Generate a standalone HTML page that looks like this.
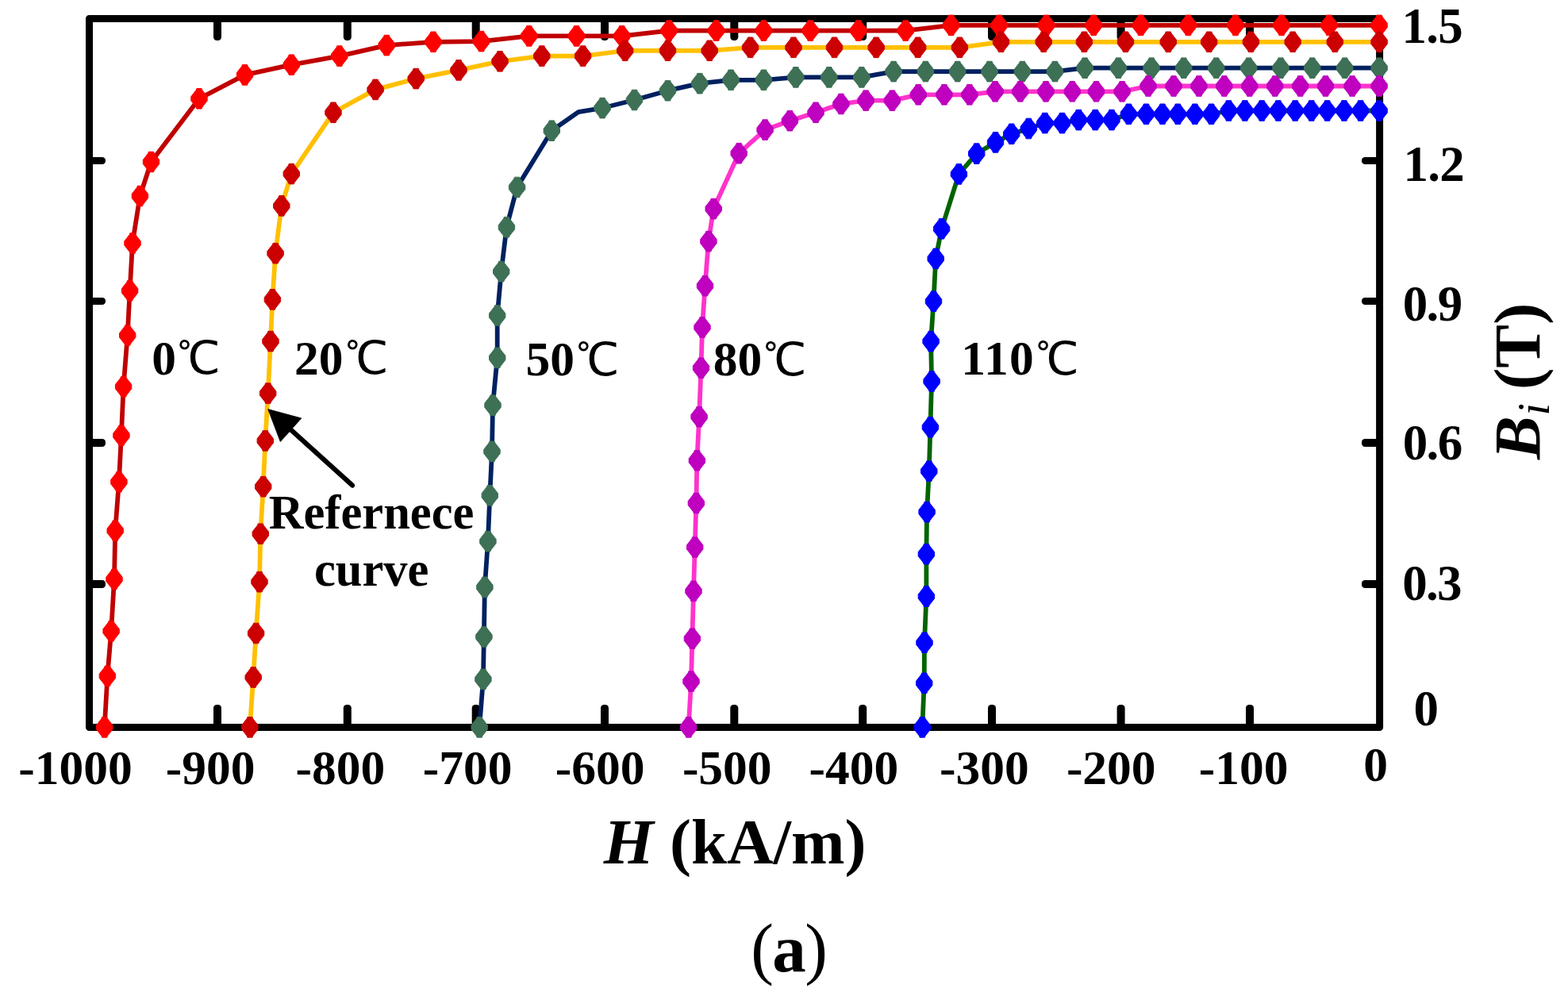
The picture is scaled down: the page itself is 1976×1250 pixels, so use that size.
<!DOCTYPE html>
<html lang="en">
<head>
<meta charset="utf-8">
<title>B-H demagnetization curves</title>
<style>
html,body{margin:0;padding:0;background:#fff;}
body{width:1976px;height:1250px;overflow:hidden;}
svg{display:block;}
</style>
</head>
<body>
<svg width="1976" height="1250" viewBox="0 0 1976 1250">
<rect width="1976" height="1250" fill="#fff"/>
<rect x="112.5" y="23.4" width="1626.1" height="893.1" fill="none" stroke="#000" stroke-width="9" stroke-linejoin="round"/>
<g fill="#000"><rect x="269.0" y="23.4" width="10" height="27.6" rx="4.2"/><rect x="269.0" y="888" width="10" height="28.5" rx="4.2"/><rect x="432.8" y="23.4" width="10" height="27.6" rx="4.2"/><rect x="432.8" y="888" width="10" height="28.5" rx="4.2"/><rect x="594.7" y="23.4" width="10" height="27.6" rx="4.2"/><rect x="594.7" y="888" width="10" height="28.5" rx="4.2"/><rect x="757.0" y="23.4" width="10" height="27.6" rx="4.2"/><rect x="757.0" y="888" width="10" height="28.5" rx="4.2"/><rect x="920.3" y="23.4" width="10" height="27.6" rx="4.2"/><rect x="920.3" y="888" width="10" height="28.5" rx="4.2"/><rect x="1082.2" y="23.4" width="10" height="27.6" rx="4.2"/><rect x="1082.2" y="888" width="10" height="28.5" rx="4.2"/><rect x="1245.0" y="23.4" width="10" height="27.6" rx="4.2"/><rect x="1245.0" y="888" width="10" height="28.5" rx="4.2"/><rect x="1407.6" y="23.4" width="10" height="27.6" rx="4.2"/><rect x="1407.6" y="888" width="10" height="28.5" rx="4.2"/><rect x="1570.0" y="23.4" width="10" height="27.6" rx="4.2"/><rect x="1570.0" y="888" width="10" height="28.5" rx="4.2"/><rect x="112.5" y="197.9" width="20.5" height="9.2" rx="4.2"/><rect x="1716" y="197.9" width="22.6" height="9.2" rx="4.2"/><rect x="112.5" y="374.9" width="20.5" height="9.2" rx="4.2"/><rect x="1716" y="374.9" width="22.6" height="9.2" rx="4.2"/><rect x="112.5" y="553.0" width="20.5" height="10" rx="4.2"/><rect x="1716" y="553.0" width="22.6" height="10" rx="4.2"/><rect x="112.5" y="731.1" width="20.5" height="10" rx="4.2"/><rect x="1716" y="731.1" width="22.6" height="10" rx="4.2"/></g>
<polyline points="131.7,916.4 135.4,851.8 140.1,795.3 144.0,729.8 145.2,668.7 149.9,607.2 152.9,548.7 155.6,487.2 160.7,422.5 163.6,366.3 167.0,306.5 176.4,247.0 190.5,204.0 251.0,124.3 308.5,94.4 367.3,81.7 427.8,70.6 487.2,57.1 546.0,52.8 606.5,52.1 666.7,45.4 726.5,45.4 783.7,45.4 843.1,38.6 902.6,38.6 962.4,38.6 1021.2,38.6 1081.7,38.6 1141.2,38.6 1198.6,31.9 1259.1,31.9 1318.6,31.9 1378.2,31.9 1437.6,31.9 1497.4,31.9 1556.9,31.9 1615.0,31.9 1674.9,31.9 1738.1,31.9" fill="none" stroke="#C00000" stroke-width="5.8" stroke-linejoin="round" stroke-linecap="round"/>
<g fill="#FF0000" stroke="#FF0000" stroke-width="1" stroke-linejoin="round"><path d="M128.6 903.6L134.8 903.6L135.5 905.6L141.9 913.8L141.9 919.0L135.5 927.2L134.8 929.2L128.6 929.2L127.9 927.2L121.5 919.0L121.5 913.8L127.9 905.6Z"/><path d="M132.3 839.0L138.5 839.0L139.2 841.0L145.6 849.2L145.6 854.4L139.2 862.6L138.5 864.6L132.3 864.6L131.6 862.6L125.2 854.4L125.2 849.2L131.6 841.0Z"/><path d="M137.0 782.5L143.2 782.5L143.9 784.5L150.3 792.7L150.3 797.9L143.9 806.1L143.2 808.1L137.0 808.1L136.3 806.1L129.9 797.9L129.9 792.7L136.3 784.5Z"/><path d="M140.9 717.0L147.1 717.0L147.8 719.0L154.2 727.2L154.2 732.4L147.8 740.6L147.1 742.6L140.9 742.6L140.2 740.6L133.8 732.4L133.8 727.2L140.2 719.0Z"/><path d="M142.1 655.9L148.3 655.9L149.0 657.9L155.4 666.1L155.4 671.3L149.0 679.5L148.3 681.5L142.1 681.5L141.4 679.5L135.0 671.3L135.0 666.1L141.4 657.9Z"/><path d="M146.8 594.4L153.0 594.4L153.7 596.4L160.1 604.6L160.1 609.8L153.7 618.0L153.0 620.0L146.8 620.0L146.1 618.0L139.7 609.8L139.7 604.6L146.1 596.4Z"/><path d="M149.8 535.9L156.0 535.9L156.7 537.9L163.1 546.1L163.1 551.3L156.7 559.5L156.0 561.5L149.8 561.5L149.1 559.5L142.7 551.3L142.7 546.1L149.1 537.9Z"/><path d="M152.5 474.4L158.7 474.4L159.4 476.4L165.8 484.6L165.8 489.8L159.4 498.0L158.7 500.0L152.5 500.0L151.8 498.0L145.4 489.8L145.4 484.6L151.8 476.4Z"/><path d="M157.6 409.7L163.8 409.7L164.5 411.7L170.9 419.9L170.9 425.1L164.5 433.3L163.8 435.3L157.6 435.3L156.9 433.3L150.5 425.1L150.5 419.9L156.9 411.7Z"/><path d="M160.5 353.5L166.7 353.5L167.4 355.5L173.8 363.7L173.8 368.9L167.4 377.1L166.7 379.1L160.5 379.1L159.8 377.1L153.4 368.9L153.4 363.7L159.8 355.5Z"/><path d="M163.9 293.7L170.1 293.7L170.8 295.7L177.2 303.9L177.2 309.1L170.8 317.3L170.1 319.3L163.9 319.3L163.2 317.3L156.8 309.1L156.8 303.9L163.2 295.7Z"/><path d="M173.3 234.2L179.5 234.2L180.2 236.2L186.6 244.4L186.6 249.6L180.2 257.8L179.5 259.8L173.3 259.8L172.6 257.8L166.2 249.6L166.2 244.4L172.6 236.2Z"/><path d="M187.4 191.2L193.6 191.2L194.3 193.2L200.7 201.4L200.7 206.6L194.3 214.8L193.6 216.8L187.4 216.8L186.7 214.8L180.3 206.6L180.3 201.4L186.7 193.2Z"/><path d="M247.9 111.5L254.1 111.5L254.8 113.5L261.2 121.7L261.2 126.9L254.8 135.1L254.1 137.1L247.9 137.1L247.2 135.1L240.8 126.9L240.8 121.7L247.2 113.5Z"/><path d="M305.4 81.6L311.6 81.6L312.3 83.6L318.7 91.8L318.7 97.0L312.3 105.2L311.6 107.2L305.4 107.2L304.7 105.2L298.3 97.0L298.3 91.8L304.7 83.6Z"/><path d="M364.2 68.9L370.4 68.9L371.1 70.9L377.5 79.1L377.5 84.3L371.1 92.5L370.4 94.5L364.2 94.5L363.5 92.5L357.1 84.3L357.1 79.1L363.5 70.9Z"/><path d="M424.7 57.8L430.9 57.8L431.6 59.8L438.0 68.0L438.0 73.2L431.6 81.4L430.9 83.4L424.7 83.4L424.0 81.4L417.6 73.2L417.6 68.0L424.0 59.8Z"/><path d="M484.1 44.3L490.3 44.3L491.0 46.3L497.4 54.5L497.4 59.7L491.0 67.9L490.3 69.9L484.1 69.9L483.4 67.9L477.0 59.7L477.0 54.5L483.4 46.3Z"/><path d="M542.9 40.0L549.1 40.0L549.8 42.0L556.2 50.2L556.2 55.4L549.8 63.6L549.1 65.6L542.9 65.6L542.2 63.6L535.8 55.4L535.8 50.2L542.2 42.0Z"/><path d="M603.4 39.3L609.6 39.3L610.3 41.3L616.7 49.5L616.7 54.7L610.3 62.9L609.6 64.9L603.4 64.9L602.7 62.9L596.3 54.7L596.3 49.5L602.7 41.3Z"/><path d="M663.6 32.6L669.8 32.6L670.5 34.6L676.9 42.8L676.9 48.0L670.5 56.2L669.8 58.2L663.6 58.2L662.9 56.2L656.5 48.0L656.5 42.8L662.9 34.6Z"/><path d="M723.4 32.6L729.6 32.6L730.3 34.6L736.7 42.8L736.7 48.0L730.3 56.2L729.6 58.2L723.4 58.2L722.7 56.2L716.3 48.0L716.3 42.8L722.7 34.6Z"/><path d="M780.6 32.6L786.8 32.6L787.5 34.6L793.9 42.8L793.9 48.0L787.5 56.2L786.8 58.2L780.6 58.2L779.9 56.2L773.5 48.0L773.5 42.8L779.9 34.6Z"/><path d="M840.0 25.8L846.2 25.8L846.9 27.8L853.3 36.0L853.3 41.2L846.9 49.4L846.2 51.4L840.0 51.4L839.3 49.4L832.9 41.2L832.9 36.0L839.3 27.8Z"/><path d="M899.5 25.8L905.7 25.8L906.4 27.8L912.8 36.0L912.8 41.2L906.4 49.4L905.7 51.4L899.5 51.4L898.8 49.4L892.4 41.2L892.4 36.0L898.8 27.8Z"/><path d="M959.3 25.8L965.5 25.8L966.2 27.8L972.6 36.0L972.6 41.2L966.2 49.4L965.5 51.4L959.3 51.4L958.6 49.4L952.2 41.2L952.2 36.0L958.6 27.8Z"/><path d="M1018.1 25.8L1024.3 25.8L1025.0 27.8L1031.4 36.0L1031.4 41.2L1025.0 49.4L1024.3 51.4L1018.1 51.4L1017.4 49.4L1011.0 41.2L1011.0 36.0L1017.4 27.8Z"/><path d="M1078.6 25.8L1084.8 25.8L1085.5 27.8L1091.9 36.0L1091.9 41.2L1085.5 49.4L1084.8 51.4L1078.6 51.4L1077.9 49.4L1071.5 41.2L1071.5 36.0L1077.9 27.8Z"/><path d="M1138.1 25.8L1144.3 25.8L1145.0 27.8L1151.4 36.0L1151.4 41.2L1145.0 49.4L1144.3 51.4L1138.1 51.4L1137.4 49.4L1131.0 41.2L1131.0 36.0L1137.4 27.8Z"/><path d="M1195.5 19.1L1201.7 19.1L1202.4 21.1L1208.8 29.3L1208.8 34.5L1202.4 42.7L1201.7 44.7L1195.5 44.7L1194.8 42.7L1188.4 34.5L1188.4 29.3L1194.8 21.1Z"/><path d="M1256.0 19.1L1262.2 19.1L1262.9 21.1L1269.3 29.3L1269.3 34.5L1262.9 42.7L1262.2 44.7L1256.0 44.7L1255.3 42.7L1248.9 34.5L1248.9 29.3L1255.3 21.1Z"/><path d="M1315.5 19.1L1321.7 19.1L1322.4 21.1L1328.8 29.3L1328.8 34.5L1322.4 42.7L1321.7 44.7L1315.5 44.7L1314.8 42.7L1308.4 34.5L1308.4 29.3L1314.8 21.1Z"/><path d="M1375.1 19.1L1381.3 19.1L1382.0 21.1L1388.4 29.3L1388.4 34.5L1382.0 42.7L1381.3 44.7L1375.1 44.7L1374.4 42.7L1368.0 34.5L1368.0 29.3L1374.4 21.1Z"/><path d="M1434.5 19.1L1440.7 19.1L1441.4 21.1L1447.8 29.3L1447.8 34.5L1441.4 42.7L1440.7 44.7L1434.5 44.7L1433.8 42.7L1427.4 34.5L1427.4 29.3L1433.8 21.1Z"/><path d="M1494.3 19.1L1500.5 19.1L1501.2 21.1L1507.6 29.3L1507.6 34.5L1501.2 42.7L1500.5 44.7L1494.3 44.7L1493.6 42.7L1487.2 34.5L1487.2 29.3L1493.6 21.1Z"/><path d="M1553.8 19.1L1560.0 19.1L1560.7 21.1L1567.1 29.3L1567.1 34.5L1560.7 42.7L1560.0 44.7L1553.8 44.7L1553.1 42.7L1546.7 34.5L1546.7 29.3L1553.1 21.1Z"/><path d="M1611.9 19.1L1618.1 19.1L1618.8 21.1L1625.2 29.3L1625.2 34.5L1618.8 42.7L1618.1 44.7L1611.9 44.7L1611.2 42.7L1604.8 34.5L1604.8 29.3L1611.2 21.1Z"/><path d="M1671.8 19.1L1678.0 19.1L1678.7 21.1L1685.1 29.3L1685.1 34.5L1678.7 42.7L1678.0 44.7L1671.8 44.7L1671.1 42.7L1664.7 34.5L1664.7 29.3L1671.1 21.1Z"/><path d="M1735.0 19.1L1741.2 19.1L1741.9 21.1L1748.3 29.3L1748.3 34.5L1741.9 42.7L1741.2 44.7L1735.0 44.7L1734.3 42.7L1727.9 34.5L1727.9 29.3L1734.3 21.1Z"/></g>
<polyline points="314.9,916.4 319.2,853.5 322.6,798.0 327.0,733.2 328.3,672.7 331.7,613.2 334.3,555.4 337.7,495.6 341.0,430.1 343.4,377.4 347.1,319.2 354.8,259.4 367.3,219.1 420.0,141.8 473.1,112.9 524.2,99.1 578.0,88.4 630.0,77.3 682.8,70.6 734.6,70.6 787.7,63.8 841.5,63.8 894.2,63.8 945.6,59.8 1000.0,59.8 1051.5,59.8 1104.2,59.8 1156.7,59.8 1209.4,59.8 1261.5,52.8 1315.2,52.8 1366.4,52.8 1418.5,52.8 1472.3,52.8 1523.7,52.8 1576.4,52.8 1629.2,52.8 1682.3,52.8 1738.1,52.8" fill="none" stroke="#FFC000" stroke-width="5.8" stroke-linejoin="round" stroke-linecap="round"/>
<g fill="#CC0000" stroke="#CC0000" stroke-width="1" stroke-linejoin="round"><path d="M311.8 903.6L318.0 903.6L318.7 905.6L325.1 913.8L325.1 919.0L318.7 927.2L318.0 929.2L311.8 929.2L311.1 927.2L304.7 919.0L304.7 913.8L311.1 905.6Z"/><path d="M316.1 840.7L322.3 840.7L323.0 842.7L329.4 850.9L329.4 856.1L323.0 864.3L322.3 866.3L316.1 866.3L315.4 864.3L309.0 856.1L309.0 850.9L315.4 842.7Z"/><path d="M319.5 785.2L325.7 785.2L326.4 787.2L332.8 795.4L332.8 800.6L326.4 808.8L325.7 810.8L319.5 810.8L318.8 808.8L312.4 800.6L312.4 795.4L318.8 787.2Z"/><path d="M323.9 720.4L330.1 720.4L330.8 722.4L337.2 730.6L337.2 735.8L330.8 744.0L330.1 746.0L323.9 746.0L323.2 744.0L316.8 735.8L316.8 730.6L323.2 722.4Z"/><path d="M325.2 659.9L331.4 659.9L332.1 661.9L338.5 670.1L338.5 675.3L332.1 683.5L331.4 685.5L325.2 685.5L324.5 683.5L318.1 675.3L318.1 670.1L324.5 661.9Z"/><path d="M328.6 600.4L334.8 600.4L335.5 602.4L341.9 610.6L341.9 615.8L335.5 624.0L334.8 626.0L328.6 626.0L327.9 624.0L321.5 615.8L321.5 610.6L327.9 602.4Z"/><path d="M331.2 542.6L337.4 542.6L338.1 544.6L344.5 552.8L344.5 558.0L338.1 566.2L337.4 568.2L331.2 568.2L330.5 566.2L324.1 558.0L324.1 552.8L330.5 544.6Z"/><path d="M334.6 482.8L340.8 482.8L341.5 484.8L347.9 493.0L347.9 498.2L341.5 506.4L340.8 508.4L334.6 508.4L333.9 506.4L327.5 498.2L327.5 493.0L333.9 484.8Z"/><path d="M337.9 417.3L344.1 417.3L344.8 419.3L351.2 427.5L351.2 432.7L344.8 440.9L344.1 442.9L337.9 442.9L337.2 440.9L330.8 432.7L330.8 427.5L337.2 419.3Z"/><path d="M340.3 364.6L346.5 364.6L347.2 366.6L353.6 374.8L353.6 380.0L347.2 388.2L346.5 390.2L340.3 390.2L339.6 388.2L333.2 380.0L333.2 374.8L339.6 366.6Z"/><path d="M344.0 306.4L350.2 306.4L350.9 308.4L357.3 316.6L357.3 321.8L350.9 330.0L350.2 332.0L344.0 332.0L343.3 330.0L336.9 321.8L336.9 316.6L343.3 308.4Z"/><path d="M351.7 246.6L357.9 246.6L358.6 248.6L365.0 256.8L365.0 262.0L358.6 270.2L357.9 272.2L351.7 272.2L351.0 270.2L344.6 262.0L344.6 256.8L351.0 248.6Z"/><path d="M364.2 206.3L370.4 206.3L371.1 208.3L377.5 216.5L377.5 221.7L371.1 229.9L370.4 231.9L364.2 231.9L363.5 229.9L357.1 221.7L357.1 216.5L363.5 208.3Z"/><path d="M416.9 129.0L423.1 129.0L423.8 131.0L430.2 139.2L430.2 144.4L423.8 152.6L423.1 154.6L416.9 154.6L416.2 152.6L409.8 144.4L409.8 139.2L416.2 131.0Z"/><path d="M470.0 100.1L476.2 100.1L476.9 102.1L483.3 110.3L483.3 115.5L476.9 123.7L476.2 125.7L470.0 125.7L469.3 123.7L462.9 115.5L462.9 110.3L469.3 102.1Z"/><path d="M521.1 86.3L527.3 86.3L528.0 88.3L534.4 96.5L534.4 101.7L528.0 109.9L527.3 111.9L521.1 111.9L520.4 109.9L514.0 101.7L514.0 96.5L520.4 88.3Z"/><path d="M574.9 75.6L581.1 75.6L581.8 77.6L588.2 85.8L588.2 91.0L581.8 99.2L581.1 101.2L574.9 101.2L574.2 99.2L567.8 91.0L567.8 85.8L574.2 77.6Z"/><path d="M626.9 64.5L633.1 64.5L633.8 66.5L640.2 74.7L640.2 79.9L633.8 88.1L633.1 90.1L626.9 90.1L626.2 88.1L619.8 79.9L619.8 74.7L626.2 66.5Z"/><path d="M679.7 57.8L685.9 57.8L686.6 59.8L693.0 68.0L693.0 73.2L686.6 81.4L685.9 83.4L679.7 83.4L679.0 81.4L672.6 73.2L672.6 68.0L679.0 59.8Z"/><path d="M731.5 57.8L737.7 57.8L738.4 59.8L744.8 68.0L744.8 73.2L738.4 81.4L737.7 83.4L731.5 83.4L730.8 81.4L724.4 73.2L724.4 68.0L730.8 59.8Z"/><path d="M784.6 51.0L790.8 51.0L791.5 53.0L797.9 61.2L797.9 66.4L791.5 74.6L790.8 76.6L784.6 76.6L783.9 74.6L777.5 66.4L777.5 61.2L783.9 53.0Z"/><path d="M838.4 51.0L844.6 51.0L845.3 53.0L851.7 61.2L851.7 66.4L845.3 74.6L844.6 76.6L838.4 76.6L837.7 74.6L831.3 66.4L831.3 61.2L837.7 53.0Z"/><path d="M891.1 51.0L897.3 51.0L898.0 53.0L904.4 61.2L904.4 66.4L898.0 74.6L897.3 76.6L891.1 76.6L890.4 74.6L884.0 66.4L884.0 61.2L890.4 53.0Z"/><path d="M942.5 47.0L948.7 47.0L949.4 49.0L955.8 57.2L955.8 62.4L949.4 70.6L948.7 72.6L942.5 72.6L941.8 70.6L935.4 62.4L935.4 57.2L941.8 49.0Z"/><path d="M996.9 47.0L1003.1 47.0L1003.8 49.0L1010.2 57.2L1010.2 62.4L1003.8 70.6L1003.1 72.6L996.9 72.6L996.2 70.6L989.8 62.4L989.8 57.2L996.2 49.0Z"/><path d="M1048.4 47.0L1054.6 47.0L1055.3 49.0L1061.7 57.2L1061.7 62.4L1055.3 70.6L1054.6 72.6L1048.4 72.6L1047.7 70.6L1041.3 62.4L1041.3 57.2L1047.7 49.0Z"/><path d="M1101.1 47.0L1107.3 47.0L1108.0 49.0L1114.4 57.2L1114.4 62.4L1108.0 70.6L1107.3 72.6L1101.1 72.6L1100.4 70.6L1094.0 62.4L1094.0 57.2L1100.4 49.0Z"/><path d="M1153.6 47.0L1159.8 47.0L1160.5 49.0L1166.9 57.2L1166.9 62.4L1160.5 70.6L1159.8 72.6L1153.6 72.6L1152.9 70.6L1146.5 62.4L1146.5 57.2L1152.9 49.0Z"/><path d="M1206.3 47.0L1212.5 47.0L1213.2 49.0L1219.6 57.2L1219.6 62.4L1213.2 70.6L1212.5 72.6L1206.3 72.6L1205.6 70.6L1199.2 62.4L1199.2 57.2L1205.6 49.0Z"/><path d="M1258.4 40.0L1264.6 40.0L1265.3 42.0L1271.7 50.2L1271.7 55.4L1265.3 63.6L1264.6 65.6L1258.4 65.6L1257.7 63.6L1251.3 55.4L1251.3 50.2L1257.7 42.0Z"/><path d="M1312.1 40.0L1318.3 40.0L1319.0 42.0L1325.4 50.2L1325.4 55.4L1319.0 63.6L1318.3 65.6L1312.1 65.6L1311.4 63.6L1305.0 55.4L1305.0 50.2L1311.4 42.0Z"/><path d="M1363.3 40.0L1369.5 40.0L1370.2 42.0L1376.6 50.2L1376.6 55.4L1370.2 63.6L1369.5 65.6L1363.3 65.6L1362.6 63.6L1356.2 55.4L1356.2 50.2L1362.6 42.0Z"/><path d="M1415.4 40.0L1421.6 40.0L1422.3 42.0L1428.7 50.2L1428.7 55.4L1422.3 63.6L1421.6 65.6L1415.4 65.6L1414.7 63.6L1408.3 55.4L1408.3 50.2L1414.7 42.0Z"/><path d="M1469.2 40.0L1475.4 40.0L1476.1 42.0L1482.5 50.2L1482.5 55.4L1476.1 63.6L1475.4 65.6L1469.2 65.6L1468.5 63.6L1462.1 55.4L1462.1 50.2L1468.5 42.0Z"/><path d="M1520.6 40.0L1526.8 40.0L1527.5 42.0L1533.9 50.2L1533.9 55.4L1527.5 63.6L1526.8 65.6L1520.6 65.6L1519.9 63.6L1513.5 55.4L1513.5 50.2L1519.9 42.0Z"/><path d="M1573.3 40.0L1579.5 40.0L1580.2 42.0L1586.6 50.2L1586.6 55.4L1580.2 63.6L1579.5 65.6L1573.3 65.6L1572.6 63.6L1566.2 55.4L1566.2 50.2L1572.6 42.0Z"/><path d="M1626.1 40.0L1632.3 40.0L1633.0 42.0L1639.4 50.2L1639.4 55.4L1633.0 63.6L1632.3 65.6L1626.1 65.6L1625.4 63.6L1619.0 55.4L1619.0 50.2L1625.4 42.0Z"/><path d="M1679.2 40.0L1685.4 40.0L1686.1 42.0L1692.5 50.2L1692.5 55.4L1686.1 63.6L1685.4 65.6L1679.2 65.6L1678.5 63.6L1672.1 55.4L1672.1 50.2L1678.5 42.0Z"/><path d="M1735.0 40.0L1741.2 40.0L1741.9 42.0L1748.3 50.2L1748.3 55.4L1741.9 63.6L1741.2 65.6L1735.0 65.6L1734.3 63.6L1727.9 55.4L1727.9 50.2L1734.3 42.0Z"/></g>
<polyline points="604.2,916.4 608.9,855.9 609.9,802.4 610.9,739.9 614.9,682.1 617.3,624.3 620.0,568.9 621.0,510.7 626.7,450.9 626.7,397.5 631.7,342.1 638.4,286.3 651.6,236.0 695.3,164.7 728.9,141.1 759.1,136.1 799.5,126.0 841.5,114.2 881.8,105.2 921.1,100.8 962.4,100.8 1002.8,97.4 1044.8,97.4 1085.8,97.4 1126.1,90.1 1166.4,90.1 1206.7,90.1 1247.0,90.1 1288.4,90.1 1329.4,90.1 1367.1,85.7 1409.4,85.7 1451.1,85.7 1491.7,85.7 1532.7,85.7 1573.7,85.7 1614.0,85.7 1653.7,85.7 1694.7,85.7 1738.1,85.7" fill="none" stroke="#002060" stroke-width="5.8" stroke-linejoin="round" stroke-linecap="round"/>
<g fill="#3D7055" stroke="#3D7055" stroke-width="1" stroke-linejoin="round"><path d="M601.1 903.6L607.3 903.6L608.0 905.6L614.4 913.8L614.4 919.0L608.0 927.2L607.3 929.2L601.1 929.2L600.4 927.2L594.0 919.0L594.0 913.8L600.4 905.6Z"/><path d="M605.8 843.1L612.0 843.1L612.7 845.1L619.1 853.3L619.1 858.5L612.7 866.7L612.0 868.7L605.8 868.7L605.1 866.7L598.7 858.5L598.7 853.3L605.1 845.1Z"/><path d="M606.8 789.6L613.0 789.6L613.7 791.6L620.1 799.8L620.1 805.0L613.7 813.2L613.0 815.2L606.8 815.2L606.1 813.2L599.7 805.0L599.7 799.8L606.1 791.6Z"/><path d="M607.8 727.1L614.0 727.1L614.7 729.1L621.1 737.3L621.1 742.5L614.7 750.7L614.0 752.7L607.8 752.7L607.1 750.7L600.7 742.5L600.7 737.3L607.1 729.1Z"/><path d="M611.8 669.3L618.0 669.3L618.7 671.3L625.1 679.5L625.1 684.7L618.7 692.9L618.0 694.9L611.8 694.9L611.1 692.9L604.7 684.7L604.7 679.5L611.1 671.3Z"/><path d="M614.2 611.5L620.4 611.5L621.1 613.5L627.5 621.7L627.5 626.9L621.1 635.1L620.4 637.1L614.2 637.1L613.5 635.1L607.1 626.9L607.1 621.7L613.5 613.5Z"/><path d="M616.9 556.1L623.1 556.1L623.8 558.1L630.2 566.3L630.2 571.5L623.8 579.7L623.1 581.7L616.9 581.7L616.2 579.7L609.8 571.5L609.8 566.3L616.2 558.1Z"/><path d="M617.9 497.9L624.1 497.9L624.8 499.9L631.2 508.1L631.2 513.3L624.8 521.5L624.1 523.5L617.9 523.5L617.2 521.5L610.8 513.3L610.8 508.1L617.2 499.9Z"/><path d="M623.6 438.1L629.8 438.1L630.5 440.1L636.9 448.3L636.9 453.5L630.5 461.7L629.8 463.7L623.6 463.7L622.9 461.7L616.5 453.5L616.5 448.3L622.9 440.1Z"/><path d="M623.6 384.7L629.8 384.7L630.5 386.7L636.9 394.9L636.9 400.1L630.5 408.3L629.8 410.3L623.6 410.3L622.9 408.3L616.5 400.1L616.5 394.9L622.9 386.7Z"/><path d="M628.6 329.3L634.8 329.3L635.5 331.3L641.9 339.5L641.9 344.7L635.5 352.9L634.8 354.9L628.6 354.9L627.9 352.9L621.5 344.7L621.5 339.5L627.9 331.3Z"/><path d="M635.3 273.5L641.5 273.5L642.2 275.5L648.6 283.7L648.6 288.9L642.2 297.1L641.5 299.1L635.3 299.1L634.6 297.1L628.2 288.9L628.2 283.7L634.6 275.5Z"/><path d="M648.5 223.2L654.7 223.2L655.4 225.2L661.8 233.4L661.8 238.6L655.4 246.8L654.7 248.8L648.5 248.8L647.8 246.8L641.4 238.6L641.4 233.4L647.8 225.2Z"/><path d="M692.2 151.9L698.4 151.9L699.1 153.9L705.5 162.1L705.5 167.3L699.1 175.5L698.4 177.5L692.2 177.5L691.5 175.5L685.1 167.3L685.1 162.1L691.5 153.9Z"/><path d="M756.0 123.3L762.2 123.3L762.9 125.3L769.3 133.5L769.3 138.7L762.9 146.9L762.2 148.9L756.0 148.9L755.3 146.9L748.9 138.7L748.9 133.5L755.3 125.3Z"/><path d="M796.4 113.2L802.6 113.2L803.3 115.2L809.7 123.4L809.7 128.6L803.3 136.8L802.6 138.8L796.4 138.8L795.7 136.8L789.3 128.6L789.3 123.4L795.7 115.2Z"/><path d="M838.4 101.4L844.6 101.4L845.3 103.4L851.7 111.6L851.7 116.8L845.3 125.0L844.6 127.0L838.4 127.0L837.7 125.0L831.3 116.8L831.3 111.6L837.7 103.4Z"/><path d="M878.7 92.4L884.9 92.4L885.6 94.4L892.0 102.6L892.0 107.8L885.6 116.0L884.9 118.0L878.7 118.0L878.0 116.0L871.6 107.8L871.6 102.6L878.0 94.4Z"/><path d="M918.0 88.0L924.2 88.0L924.9 90.0L931.3 98.2L931.3 103.4L924.9 111.6L924.2 113.6L918.0 113.6L917.3 111.6L910.9 103.4L910.9 98.2L917.3 90.0Z"/><path d="M959.3 88.0L965.5 88.0L966.2 90.0L972.6 98.2L972.6 103.4L966.2 111.6L965.5 113.6L959.3 113.6L958.6 111.6L952.2 103.4L952.2 98.2L958.6 90.0Z"/><path d="M999.7 84.6L1005.9 84.6L1006.6 86.6L1013.0 94.8L1013.0 100.0L1006.6 108.2L1005.9 110.2L999.7 110.2L999.0 108.2L992.6 100.0L992.6 94.8L999.0 86.6Z"/><path d="M1041.7 84.6L1047.9 84.6L1048.6 86.6L1055.0 94.8L1055.0 100.0L1048.6 108.2L1047.9 110.2L1041.7 110.2L1041.0 108.2L1034.6 100.0L1034.6 94.8L1041.0 86.6Z"/><path d="M1082.7 84.6L1088.9 84.6L1089.6 86.6L1096.0 94.8L1096.0 100.0L1089.6 108.2L1088.9 110.2L1082.7 110.2L1082.0 108.2L1075.6 100.0L1075.6 94.8L1082.0 86.6Z"/><path d="M1123.0 77.3L1129.2 77.3L1129.9 79.3L1136.3 87.5L1136.3 92.7L1129.9 100.9L1129.2 102.9L1123.0 102.9L1122.3 100.9L1115.9 92.7L1115.9 87.5L1122.3 79.3Z"/><path d="M1163.3 77.3L1169.5 77.3L1170.2 79.3L1176.6 87.5L1176.6 92.7L1170.2 100.9L1169.5 102.9L1163.3 102.9L1162.6 100.9L1156.2 92.7L1156.2 87.5L1162.6 79.3Z"/><path d="M1203.6 77.3L1209.8 77.3L1210.5 79.3L1216.9 87.5L1216.9 92.7L1210.5 100.9L1209.8 102.9L1203.6 102.9L1202.9 100.9L1196.5 92.7L1196.5 87.5L1202.9 79.3Z"/><path d="M1243.9 77.3L1250.1 77.3L1250.8 79.3L1257.2 87.5L1257.2 92.7L1250.8 100.9L1250.1 102.9L1243.9 102.9L1243.2 100.9L1236.8 92.7L1236.8 87.5L1243.2 79.3Z"/><path d="M1285.3 77.3L1291.5 77.3L1292.2 79.3L1298.6 87.5L1298.6 92.7L1292.2 100.9L1291.5 102.9L1285.3 102.9L1284.6 100.9L1278.2 92.7L1278.2 87.5L1284.6 79.3Z"/><path d="M1326.3 77.3L1332.5 77.3L1333.2 79.3L1339.6 87.5L1339.6 92.7L1333.2 100.9L1332.5 102.9L1326.3 102.9L1325.6 100.9L1319.2 92.7L1319.2 87.5L1325.6 79.3Z"/><path d="M1364.0 72.9L1370.2 72.9L1370.9 74.9L1377.3 83.1L1377.3 88.3L1370.9 96.5L1370.2 98.5L1364.0 98.5L1363.3 96.5L1356.9 88.3L1356.9 83.1L1363.3 74.9Z"/><path d="M1406.3 72.9L1412.5 72.9L1413.2 74.9L1419.6 83.1L1419.6 88.3L1413.2 96.5L1412.5 98.5L1406.3 98.5L1405.6 96.5L1399.2 88.3L1399.2 83.1L1405.6 74.9Z"/><path d="M1448.0 72.9L1454.2 72.9L1454.9 74.9L1461.3 83.1L1461.3 88.3L1454.9 96.5L1454.2 98.5L1448.0 98.5L1447.3 96.5L1440.9 88.3L1440.9 83.1L1447.3 74.9Z"/><path d="M1488.6 72.9L1494.8 72.9L1495.5 74.9L1501.9 83.1L1501.9 88.3L1495.5 96.5L1494.8 98.5L1488.6 98.5L1487.9 96.5L1481.5 88.3L1481.5 83.1L1487.9 74.9Z"/><path d="M1529.6 72.9L1535.8 72.9L1536.5 74.9L1542.9 83.1L1542.9 88.3L1536.5 96.5L1535.8 98.5L1529.6 98.5L1528.9 96.5L1522.5 88.3L1522.5 83.1L1528.9 74.9Z"/><path d="M1570.6 72.9L1576.8 72.9L1577.5 74.9L1583.9 83.1L1583.9 88.3L1577.5 96.5L1576.8 98.5L1570.6 98.5L1569.9 96.5L1563.5 88.3L1563.5 83.1L1569.9 74.9Z"/><path d="M1610.9 72.9L1617.1 72.9L1617.8 74.9L1624.2 83.1L1624.2 88.3L1617.8 96.5L1617.1 98.5L1610.9 98.5L1610.2 96.5L1603.8 88.3L1603.8 83.1L1610.2 74.9Z"/><path d="M1650.6 72.9L1656.8 72.9L1657.5 74.9L1663.9 83.1L1663.9 88.3L1657.5 96.5L1656.8 98.5L1650.6 98.5L1649.9 96.5L1643.5 88.3L1643.5 83.1L1649.9 74.9Z"/><path d="M1691.6 72.9L1697.8 72.9L1698.5 74.9L1704.9 83.1L1704.9 88.3L1698.5 96.5L1697.8 98.5L1691.6 98.5L1690.9 96.5L1684.5 88.3L1684.5 83.1L1690.9 74.9Z"/><path d="M1735.0 72.9L1741.2 72.9L1741.9 74.9L1748.3 83.1L1748.3 88.3L1741.9 96.5L1741.2 98.5L1735.0 98.5L1734.3 96.5L1727.9 88.3L1727.9 83.1L1734.3 74.9Z"/></g>
<polyline points="867.7,916.4 871.0,858.6 872.4,804.7 874.0,744.9 875.7,689.5 877.4,634.0 878.4,580.3 881.1,525.2 883.5,463.7 885.0,412.5 888.5,360.2 892.9,304.1 899.2,263.1 931.2,193.2 964.1,163.6 995.4,152.2 1028.0,141.8 1059.9,131.0 1091.1,126.7 1124.4,126.7 1157.3,119.3 1189.9,119.3 1221.8,119.3 1254.1,115.3 1285.7,115.3 1318.0,115.3 1351.3,115.3 1381.5,115.3 1414.1,115.3 1447.0,108.5 1479.0,108.5 1510.9,108.5 1542.8,108.5 1574.7,108.5 1606.7,108.5 1638.6,108.5 1670.5,108.5 1704.1,108.5 1738.1,108.5" fill="none" stroke="#FF33CC" stroke-width="5.8" stroke-linejoin="round" stroke-linecap="round"/>
<g fill="#BF00BF" stroke="#BF00BF" stroke-width="1" stroke-linejoin="round"><path d="M864.6 903.6L870.8 903.6L871.5 905.6L877.9 913.8L877.9 919.0L871.5 927.2L870.8 929.2L864.6 929.2L863.9 927.2L857.5 919.0L857.5 913.8L863.9 905.6Z"/><path d="M867.9 845.8L874.1 845.8L874.8 847.8L881.2 856.0L881.2 861.2L874.8 869.4L874.1 871.4L867.9 871.4L867.2 869.4L860.8 861.2L860.8 856.0L867.2 847.8Z"/><path d="M869.3 791.9L875.5 791.9L876.2 793.9L882.6 802.1L882.6 807.3L876.2 815.5L875.5 817.5L869.3 817.5L868.6 815.5L862.2 807.3L862.2 802.1L868.6 793.9Z"/><path d="M870.9 732.1L877.1 732.1L877.8 734.1L884.2 742.3L884.2 747.5L877.8 755.7L877.1 757.7L870.9 757.7L870.2 755.7L863.8 747.5L863.8 742.3L870.2 734.1Z"/><path d="M872.6 676.7L878.8 676.7L879.5 678.7L885.9 686.9L885.9 692.1L879.5 700.3L878.8 702.3L872.6 702.3L871.9 700.3L865.5 692.1L865.5 686.9L871.9 678.7Z"/><path d="M874.3 621.2L880.5 621.2L881.2 623.2L887.6 631.4L887.6 636.6L881.2 644.8L880.5 646.8L874.3 646.8L873.6 644.8L867.2 636.6L867.2 631.4L873.6 623.2Z"/><path d="M875.3 567.5L881.5 567.5L882.2 569.5L888.6 577.7L888.6 582.9L882.2 591.1L881.5 593.1L875.3 593.1L874.6 591.1L868.2 582.9L868.2 577.7L874.6 569.5Z"/><path d="M878.0 512.4L884.2 512.4L884.9 514.4L891.3 522.6L891.3 527.8L884.9 536.0L884.2 538.0L878.0 538.0L877.3 536.0L870.9 527.8L870.9 522.6L877.3 514.4Z"/><path d="M880.4 450.9L886.6 450.9L887.3 452.9L893.7 461.1L893.7 466.3L887.3 474.5L886.6 476.5L880.4 476.5L879.7 474.5L873.3 466.3L873.3 461.1L879.7 452.9Z"/><path d="M881.9 399.7L888.1 399.7L888.8 401.7L895.2 409.9L895.2 415.1L888.8 423.3L888.1 425.3L881.9 425.3L881.2 423.3L874.8 415.1L874.8 409.9L881.2 401.7Z"/><path d="M885.4 347.4L891.6 347.4L892.3 349.4L898.7 357.6L898.7 362.8L892.3 371.0L891.6 373.0L885.4 373.0L884.7 371.0L878.3 362.8L878.3 357.6L884.7 349.4Z"/><path d="M889.8 291.3L896.0 291.3L896.7 293.3L903.1 301.5L903.1 306.7L896.7 314.9L896.0 316.9L889.8 316.9L889.1 314.9L882.7 306.7L882.7 301.5L889.1 293.3Z"/><path d="M896.1 250.3L902.3 250.3L903.0 252.3L909.4 260.5L909.4 265.7L903.0 273.9L902.3 275.9L896.1 275.9L895.4 273.9L889.0 265.7L889.0 260.5L895.4 252.3Z"/><path d="M928.1 180.4L934.3 180.4L935.0 182.4L941.4 190.6L941.4 195.8L935.0 204.0L934.3 206.0L928.1 206.0L927.4 204.0L921.0 195.8L921.0 190.6L927.4 182.4Z"/><path d="M961.0 150.8L967.2 150.8L967.9 152.8L974.3 161.0L974.3 166.2L967.9 174.4L967.2 176.4L961.0 176.4L960.3 174.4L953.9 166.2L953.9 161.0L960.3 152.8Z"/><path d="M992.3 139.4L998.5 139.4L999.2 141.4L1005.6 149.6L1005.6 154.8L999.2 163.0L998.5 165.0L992.3 165.0L991.6 163.0L985.2 154.8L985.2 149.6L991.6 141.4Z"/><path d="M1024.9 129.0L1031.1 129.0L1031.8 131.0L1038.2 139.2L1038.2 144.4L1031.8 152.6L1031.1 154.6L1024.9 154.6L1024.2 152.6L1017.8 144.4L1017.8 139.2L1024.2 131.0Z"/><path d="M1056.8 118.2L1063.0 118.2L1063.7 120.2L1070.1 128.4L1070.1 133.6L1063.7 141.8L1063.0 143.8L1056.8 143.8L1056.1 141.8L1049.7 133.6L1049.7 128.4L1056.1 120.2Z"/><path d="M1088.0 113.9L1094.2 113.9L1094.9 115.9L1101.3 124.1L1101.3 129.3L1094.9 137.5L1094.2 139.5L1088.0 139.5L1087.3 137.5L1080.9 129.3L1080.9 124.1L1087.3 115.9Z"/><path d="M1121.3 113.9L1127.5 113.9L1128.2 115.9L1134.6 124.1L1134.6 129.3L1128.2 137.5L1127.5 139.5L1121.3 139.5L1120.6 137.5L1114.2 129.3L1114.2 124.1L1120.6 115.9Z"/><path d="M1154.2 106.5L1160.4 106.5L1161.1 108.5L1167.5 116.7L1167.5 121.9L1161.1 130.1L1160.4 132.1L1154.2 132.1L1153.5 130.1L1147.1 121.9L1147.1 116.7L1153.5 108.5Z"/><path d="M1186.8 106.5L1193.0 106.5L1193.7 108.5L1200.1 116.7L1200.1 121.9L1193.7 130.1L1193.0 132.1L1186.8 132.1L1186.1 130.1L1179.7 121.9L1179.7 116.7L1186.1 108.5Z"/><path d="M1218.7 106.5L1224.9 106.5L1225.6 108.5L1232.0 116.7L1232.0 121.9L1225.6 130.1L1224.9 132.1L1218.7 132.1L1218.0 130.1L1211.6 121.9L1211.6 116.7L1218.0 108.5Z"/><path d="M1251.0 102.5L1257.2 102.5L1257.9 104.5L1264.3 112.7L1264.3 117.9L1257.9 126.1L1257.2 128.1L1251.0 128.1L1250.3 126.1L1243.9 117.9L1243.9 112.7L1250.3 104.5Z"/><path d="M1282.6 102.5L1288.8 102.5L1289.5 104.5L1295.9 112.7L1295.9 117.9L1289.5 126.1L1288.8 128.1L1282.6 128.1L1281.9 126.1L1275.5 117.9L1275.5 112.7L1281.9 104.5Z"/><path d="M1314.9 102.5L1321.1 102.5L1321.8 104.5L1328.2 112.7L1328.2 117.9L1321.8 126.1L1321.1 128.1L1314.9 128.1L1314.2 126.1L1307.8 117.9L1307.8 112.7L1314.2 104.5Z"/><path d="M1348.2 102.5L1354.4 102.5L1355.1 104.5L1361.5 112.7L1361.5 117.9L1355.1 126.1L1354.4 128.1L1348.2 128.1L1347.5 126.1L1341.1 117.9L1341.1 112.7L1347.5 104.5Z"/><path d="M1378.4 102.5L1384.6 102.5L1385.3 104.5L1391.7 112.7L1391.7 117.9L1385.3 126.1L1384.6 128.1L1378.4 128.1L1377.7 126.1L1371.3 117.9L1371.3 112.7L1377.7 104.5Z"/><path d="M1411.0 102.5L1417.2 102.5L1417.9 104.5L1424.3 112.7L1424.3 117.9L1417.9 126.1L1417.2 128.1L1411.0 128.1L1410.3 126.1L1403.9 117.9L1403.9 112.7L1410.3 104.5Z"/><path d="M1443.9 95.7L1450.1 95.7L1450.8 97.7L1457.2 105.9L1457.2 111.1L1450.8 119.3L1450.1 121.3L1443.9 121.3L1443.2 119.3L1436.8 111.1L1436.8 105.9L1443.2 97.7Z"/><path d="M1475.9 95.7L1482.1 95.7L1482.8 97.7L1489.2 105.9L1489.2 111.1L1482.8 119.3L1482.1 121.3L1475.9 121.3L1475.2 119.3L1468.8 111.1L1468.8 105.9L1475.2 97.7Z"/><path d="M1507.8 95.7L1514.0 95.7L1514.7 97.7L1521.1 105.9L1521.1 111.1L1514.7 119.3L1514.0 121.3L1507.8 121.3L1507.1 119.3L1500.7 111.1L1500.7 105.9L1507.1 97.7Z"/><path d="M1539.7 95.7L1545.9 95.7L1546.6 97.7L1553.0 105.9L1553.0 111.1L1546.6 119.3L1545.9 121.3L1539.7 121.3L1539.0 119.3L1532.6 111.1L1532.6 105.9L1539.0 97.7Z"/><path d="M1571.6 95.7L1577.8 95.7L1578.5 97.7L1584.9 105.9L1584.9 111.1L1578.5 119.3L1577.8 121.3L1571.6 121.3L1570.9 119.3L1564.5 111.1L1564.5 105.9L1570.9 97.7Z"/><path d="M1603.6 95.7L1609.8 95.7L1610.5 97.7L1616.9 105.9L1616.9 111.1L1610.5 119.3L1609.8 121.3L1603.6 121.3L1602.9 119.3L1596.5 111.1L1596.5 105.9L1602.9 97.7Z"/><path d="M1635.5 95.7L1641.7 95.7L1642.4 97.7L1648.8 105.9L1648.8 111.1L1642.4 119.3L1641.7 121.3L1635.5 121.3L1634.8 119.3L1628.4 111.1L1628.4 105.9L1634.8 97.7Z"/><path d="M1667.4 95.7L1673.6 95.7L1674.3 97.7L1680.7 105.9L1680.7 111.1L1674.3 119.3L1673.6 121.3L1667.4 121.3L1666.7 119.3L1660.3 111.1L1660.3 105.9L1666.7 97.7Z"/><path d="M1701.0 95.7L1707.2 95.7L1707.9 97.7L1714.3 105.9L1714.3 111.1L1707.9 119.3L1707.2 121.3L1701.0 121.3L1700.3 119.3L1693.9 111.1L1693.9 105.9L1700.3 97.7Z"/><path d="M1735.0 95.7L1741.2 95.7L1741.9 97.7L1748.3 105.9L1748.3 111.1L1741.9 119.3L1741.2 121.3L1735.0 121.3L1734.3 119.3L1727.9 111.1L1727.9 105.9L1734.3 97.7Z"/></g>
<polyline points="1162.3,916.4 1164.7,860.9 1165.0,809.8 1167.4,751.6 1167.4,698.2 1168.1,645.1 1170.8,593.7 1172.4,538.3 1174.1,480.5 1173.1,430.1 1176.5,379.7 1179.2,325.9 1186.6,288.3 1208.4,219.4 1230.7,193.6 1254.5,179.4 1274.7,168.8 1296.3,162.0 1316.8,155.1 1338.5,155.1 1359.3,151.1 1380.3,151.1 1400.9,151.1 1422.4,143.8 1444.4,143.8 1464.9,143.8 1484.3,143.8 1505.8,143.8 1526.5,143.8 1548.4,139.5 1568.8,139.5 1590.2,139.5 1610.8,139.5 1632.2,139.5 1652.7,139.5 1672.6,139.5 1693.9,139.5 1714.6,139.5 1738.1,139.5" fill="none" stroke="#006400" stroke-width="5.8" stroke-linejoin="round" stroke-linecap="round"/>
<g fill="#0000FF" stroke="#0000FF" stroke-width="1" stroke-linejoin="round"><path d="M1159.2 903.6L1165.4 903.6L1166.1 905.6L1172.5 913.8L1172.5 919.0L1166.1 927.2L1165.4 929.2L1159.2 929.2L1158.5 927.2L1152.1 919.0L1152.1 913.8L1158.5 905.6Z"/><path d="M1161.6 848.1L1167.8 848.1L1168.5 850.1L1174.9 858.3L1174.9 863.5L1168.5 871.7L1167.8 873.7L1161.6 873.7L1160.9 871.7L1154.5 863.5L1154.5 858.3L1160.9 850.1Z"/><path d="M1161.9 797.0L1168.1 797.0L1168.8 799.0L1175.2 807.2L1175.2 812.4L1168.8 820.6L1168.1 822.6L1161.9 822.6L1161.2 820.6L1154.8 812.4L1154.8 807.2L1161.2 799.0Z"/><path d="M1164.3 738.8L1170.5 738.8L1171.2 740.8L1177.6 749.0L1177.6 754.2L1171.2 762.4L1170.5 764.4L1164.3 764.4L1163.6 762.4L1157.2 754.2L1157.2 749.0L1163.6 740.8Z"/><path d="M1164.3 685.4L1170.5 685.4L1171.2 687.4L1177.6 695.6L1177.6 700.8L1171.2 709.0L1170.5 711.0L1164.3 711.0L1163.6 709.0L1157.2 700.8L1157.2 695.6L1163.6 687.4Z"/><path d="M1165.0 632.3L1171.2 632.3L1171.9 634.3L1178.3 642.5L1178.3 647.7L1171.9 655.9L1171.2 657.9L1165.0 657.9L1164.3 655.9L1157.9 647.7L1157.9 642.5L1164.3 634.3Z"/><path d="M1167.7 580.9L1173.9 580.9L1174.6 582.9L1181.0 591.1L1181.0 596.3L1174.6 604.5L1173.9 606.5L1167.7 606.5L1167.0 604.5L1160.6 596.3L1160.6 591.1L1167.0 582.9Z"/><path d="M1169.3 525.5L1175.5 525.5L1176.2 527.5L1182.6 535.7L1182.6 540.9L1176.2 549.1L1175.5 551.1L1169.3 551.1L1168.6 549.1L1162.2 540.9L1162.2 535.7L1168.6 527.5Z"/><path d="M1171.0 467.7L1177.2 467.7L1177.9 469.7L1184.3 477.9L1184.3 483.1L1177.9 491.3L1177.2 493.3L1171.0 493.3L1170.3 491.3L1163.9 483.1L1163.9 477.9L1170.3 469.7Z"/><path d="M1170.0 417.3L1176.2 417.3L1176.9 419.3L1183.3 427.5L1183.3 432.7L1176.9 440.9L1176.2 442.9L1170.0 442.9L1169.3 440.9L1162.9 432.7L1162.9 427.5L1169.3 419.3Z"/><path d="M1173.4 366.9L1179.6 366.9L1180.3 368.9L1186.7 377.1L1186.7 382.3L1180.3 390.5L1179.6 392.5L1173.4 392.5L1172.7 390.5L1166.3 382.3L1166.3 377.1L1172.7 368.9Z"/><path d="M1176.1 313.1L1182.3 313.1L1183.0 315.1L1189.4 323.3L1189.4 328.5L1183.0 336.7L1182.3 338.7L1176.1 338.7L1175.4 336.7L1169.0 328.5L1169.0 323.3L1175.4 315.1Z"/><path d="M1183.5 275.5L1189.7 275.5L1190.4 277.5L1196.8 285.7L1196.8 290.9L1190.4 299.1L1189.7 301.1L1183.5 301.1L1182.8 299.1L1176.4 290.9L1176.4 285.7L1182.8 277.5Z"/><path d="M1205.3 206.6L1211.5 206.6L1212.2 208.6L1218.6 216.8L1218.6 222.0L1212.2 230.2L1211.5 232.2L1205.3 232.2L1204.6 230.2L1198.2 222.0L1198.2 216.8L1204.6 208.6Z"/><path d="M1227.6 180.8L1233.8 180.8L1234.5 182.8L1240.9 191.0L1240.9 196.2L1234.5 204.4L1233.8 206.4L1227.6 206.4L1226.9 204.4L1220.5 196.2L1220.5 191.0L1226.9 182.8Z"/><path d="M1251.4 166.6L1257.6 166.6L1258.3 168.6L1264.7 176.8L1264.7 182.0L1258.3 190.2L1257.6 192.2L1251.4 192.2L1250.7 190.2L1244.3 182.0L1244.3 176.8L1250.7 168.6Z"/><path d="M1271.6 156.0L1277.8 156.0L1278.5 158.0L1284.9 166.2L1284.9 171.4L1278.5 179.6L1277.8 181.6L1271.6 181.6L1270.9 179.6L1264.5 171.4L1264.5 166.2L1270.9 158.0Z"/><path d="M1293.2 149.2L1299.4 149.2L1300.1 151.2L1306.5 159.4L1306.5 164.6L1300.1 172.8L1299.4 174.8L1293.2 174.8L1292.5 172.8L1286.1 164.6L1286.1 159.4L1292.5 151.2Z"/><path d="M1313.7 142.3L1319.9 142.3L1320.6 144.3L1327.0 152.5L1327.0 157.7L1320.6 165.9L1319.9 167.9L1313.7 167.9L1313.0 165.9L1306.6 157.7L1306.6 152.5L1313.0 144.3Z"/><path d="M1335.4 142.3L1341.6 142.3L1342.3 144.3L1348.7 152.5L1348.7 157.7L1342.3 165.9L1341.6 167.9L1335.4 167.9L1334.7 165.9L1328.3 157.7L1328.3 152.5L1334.7 144.3Z"/><path d="M1356.2 138.3L1362.4 138.3L1363.1 140.3L1369.5 148.5L1369.5 153.7L1363.1 161.9L1362.4 163.9L1356.2 163.9L1355.5 161.9L1349.1 153.7L1349.1 148.5L1355.5 140.3Z"/><path d="M1377.2 138.3L1383.4 138.3L1384.1 140.3L1390.5 148.5L1390.5 153.7L1384.1 161.9L1383.4 163.9L1377.2 163.9L1376.5 161.9L1370.1 153.7L1370.1 148.5L1376.5 140.3Z"/><path d="M1397.8 138.3L1404.0 138.3L1404.7 140.3L1411.1 148.5L1411.1 153.7L1404.7 161.9L1404.0 163.9L1397.8 163.9L1397.1 161.9L1390.7 153.7L1390.7 148.5L1397.1 140.3Z"/><path d="M1419.3 131.0L1425.5 131.0L1426.2 133.0L1432.6 141.2L1432.6 146.4L1426.2 154.6L1425.5 156.6L1419.3 156.6L1418.6 154.6L1412.2 146.4L1412.2 141.2L1418.6 133.0Z"/><path d="M1441.3 131.0L1447.5 131.0L1448.2 133.0L1454.6 141.2L1454.6 146.4L1448.2 154.6L1447.5 156.6L1441.3 156.6L1440.6 154.6L1434.2 146.4L1434.2 141.2L1440.6 133.0Z"/><path d="M1461.8 131.0L1468.0 131.0L1468.7 133.0L1475.1 141.2L1475.1 146.4L1468.7 154.6L1468.0 156.6L1461.8 156.6L1461.1 154.6L1454.7 146.4L1454.7 141.2L1461.1 133.0Z"/><path d="M1481.2 131.0L1487.4 131.0L1488.1 133.0L1494.5 141.2L1494.5 146.4L1488.1 154.6L1487.4 156.6L1481.2 156.6L1480.5 154.6L1474.1 146.4L1474.1 141.2L1480.5 133.0Z"/><path d="M1502.7 131.0L1508.9 131.0L1509.6 133.0L1516.0 141.2L1516.0 146.4L1509.6 154.6L1508.9 156.6L1502.7 156.6L1502.0 154.6L1495.6 146.4L1495.6 141.2L1502.0 133.0Z"/><path d="M1523.4 131.0L1529.6 131.0L1530.3 133.0L1536.7 141.2L1536.7 146.4L1530.3 154.6L1529.6 156.6L1523.4 156.6L1522.7 154.6L1516.3 146.4L1516.3 141.2L1522.7 133.0Z"/><path d="M1545.3 126.7L1551.5 126.7L1552.2 128.7L1558.6 136.9L1558.6 142.1L1552.2 150.3L1551.5 152.3L1545.3 152.3L1544.6 150.3L1538.2 142.1L1538.2 136.9L1544.6 128.7Z"/><path d="M1565.7 126.7L1571.9 126.7L1572.6 128.7L1579.0 136.9L1579.0 142.1L1572.6 150.3L1571.9 152.3L1565.7 152.3L1565.0 150.3L1558.6 142.1L1558.6 136.9L1565.0 128.7Z"/><path d="M1587.1 126.7L1593.3 126.7L1594.0 128.7L1600.4 136.9L1600.4 142.1L1594.0 150.3L1593.3 152.3L1587.1 152.3L1586.4 150.3L1580.0 142.1L1580.0 136.9L1586.4 128.7Z"/><path d="M1607.7 126.7L1613.9 126.7L1614.6 128.7L1621.0 136.9L1621.0 142.1L1614.6 150.3L1613.9 152.3L1607.7 152.3L1607.0 150.3L1600.6 142.1L1600.6 136.9L1607.0 128.7Z"/><path d="M1629.1 126.7L1635.3 126.7L1636.0 128.7L1642.4 136.9L1642.4 142.1L1636.0 150.3L1635.3 152.3L1629.1 152.3L1628.4 150.3L1622.0 142.1L1622.0 136.9L1628.4 128.7Z"/><path d="M1649.6 126.7L1655.8 126.7L1656.5 128.7L1662.9 136.9L1662.9 142.1L1656.5 150.3L1655.8 152.3L1649.6 152.3L1648.9 150.3L1642.5 142.1L1642.5 136.9L1648.9 128.7Z"/><path d="M1669.5 126.7L1675.7 126.7L1676.4 128.7L1682.8 136.9L1682.8 142.1L1676.4 150.3L1675.7 152.3L1669.5 152.3L1668.8 150.3L1662.4 142.1L1662.4 136.9L1668.8 128.7Z"/><path d="M1690.8 126.7L1697.0 126.7L1697.7 128.7L1704.1 136.9L1704.1 142.1L1697.7 150.3L1697.0 152.3L1690.8 152.3L1690.1 150.3L1683.7 142.1L1683.7 136.9L1690.1 128.7Z"/><path d="M1711.5 126.7L1717.7 126.7L1718.4 128.7L1724.8 136.9L1724.8 142.1L1718.4 150.3L1717.7 152.3L1711.5 152.3L1710.8 150.3L1704.4 142.1L1704.4 136.9L1710.8 128.7Z"/><path d="M1735.0 126.7L1741.2 126.7L1741.9 128.7L1748.3 136.9L1748.3 142.1L1741.9 150.3L1741.2 152.3L1735.0 152.3L1734.3 150.3L1727.9 142.1L1727.9 136.9L1734.3 128.7Z"/></g>
<line x1="444.0" y1="611.6" x2="361" y2="536.5" stroke="#000" stroke-width="6.1" stroke-linecap="round"/>
<path d="M337.7 515.6L379.9 527L353.3 556.6Z" fill="#000" stroke="#000" stroke-width="0.8" stroke-linejoin="round"/>
<g font-family="'Liberation Serif','WenQuanYi Zen Hei',serif" font-weight="bold" font-size="61.5" fill="#000">
<text x="23.3" y="988.4">-1000</text>
<text x="208.8" y="988.4">-900</text>
<text x="372.5" y="988.4">-800</text>
<text x="532.7" y="988.4">-700</text>
<text x="699.7" y="988.4">-600</text>
<text x="859.9" y="988.4">-500</text>
<text x="1019.5" y="988.4">-400</text>
<text x="1184.0" y="988.4">-300</text>
<text x="1343.9" y="988.4">-200</text>
<text x="1510.7" y="988.4">-100</text>
<text x="1718.2" y="983.6">0</text>
<text x="1766.6" y="54.0" font-size="63" letter-spacing="-0.8">1.5</text>
<text x="1768.6" y="228.0" font-size="63" letter-spacing="-0.8">1.2</text>
<text x="1767.8" y="403.6" font-size="63" letter-spacing="-1.7">0.9</text>
<text x="1767.8" y="579.2" font-size="63" letter-spacing="-1.7">0.6</text>
<text x="1767.2" y="756.2" font-size="63" letter-spacing="-1.7">0.3</text>
<text x="1781.6" y="913.6" font-size="63" letter-spacing="-1.7">0</text>
<text y="471.6"><tspan x="191.2">0</tspan><tspan x="223.6" dy="-0.7" font-weight="normal" font-size="58">℃</tspan></text>
<text y="471.6"><tspan x="370.9">20</tspan><tspan x="435.2" dy="-0.7" font-weight="normal" font-size="58">℃</tspan></text>
<text y="473.3"><tspan x="662.4">50</tspan><tspan x="726.2" dy="-0.7" font-weight="normal" font-size="58">℃</tspan></text>
<text y="473.3"><tspan x="898.8">80</tspan><tspan x="962.2" dy="-0.7" font-weight="normal" font-size="58">℃</tspan></text>
<text y="472.4"><tspan x="1211.2" letter-spacing="1.4">110</tspan><tspan x="1305.4" dy="-0.7" font-weight="normal" font-size="58">℃</tspan></text>
<text x="338.8" y="665.5" font-size="60.5">Refernece</text>
<text x="396" y="737.5" font-size="60.5">curve</text>
<text x="760.7" y="1088" font-size="81"><tspan font-style="italic">H</tspan> (kA/m)</text>
<text y="1224" font-size="86"><tspan x="946.2" font-weight="normal">(</tspan><tspan x="973.3" font-size="85">a</tspan><tspan x="1014.2" font-weight="normal">)</tspan></text>
<text transform="translate(1940 580) rotate(-90)" font-size="82"><tspan x="1" y="0" font-style="italic">B</tspan><tspan x="56.5" y="12" font-style="italic" font-weight="normal" font-size="56">i </tspan><tspan x="88.9" y="0">(T)</tspan></text>
</g>
</svg>
</body>
</html>
